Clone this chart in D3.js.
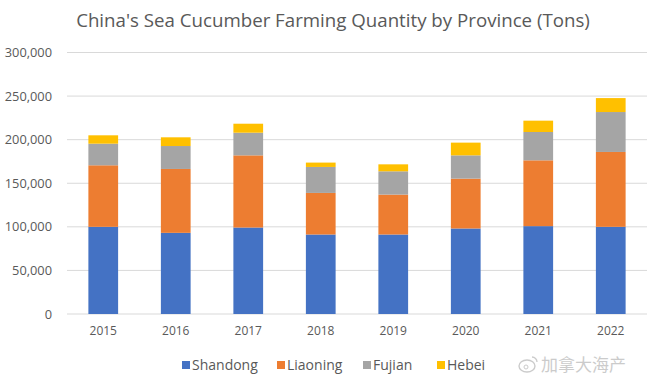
<!DOCTYPE html>
<html><head><meta charset="utf-8">
<script src="https://cdn.jsdelivr.net/npm/d3@7"></script>
<style>body{margin:0;background:#fff}svg{display:block}</style>
</head><body>
<svg id="c" width="660" height="385"></svg>
<script>
const years = ["2015","2016","2017","2018","2019","2020","2021","2022"];
const seriesNames = ["Shandong","Liaoning","Fujian","Hebei"];
const shandong = [100000, 93100, 99200, 91200, 91200, 98100, 100800, 100000];
const liaoning = [70600, 73300, 82800, 47700, 45800, 57200, 75500, 85900];
const fujian   = [24800, 26300, 26000, 29800, 26700, 26700, 32500, 45800];
const hebei    = [9600, 10000, 10300, 5000, 8000, 14600, 13000, 16000];
const colors = ["#4472C4","#ED7D31","#A5A5A5","#FFC000"];
const yTicks = [0,50000,100000,150000,200000,250000,300000];

const svg = d3.select("#c");
const font = "'Open Sans', sans-serif";
const m = {left:67, right:13, top:52, bottom:71};
const W = 660, H = 385;
const x = d3.scaleBand().domain(years).range([m.left, W-m.right]).paddingInner(0.59).paddingOuter(0.295);
const y = d3.scaleLinear().domain([0,300000]).range([314, 52.5]);

const rows = years.map((yr,i)=>({year:yr, Shandong:shandong[i], Liaoning:liaoning[i], Fujian:fujian[i], Hebei:hebei[i]}));
const stacked = d3.stack().keys(seriesNames)(rows);

// gridlines
svg.append("g").selectAll("line").data(yTicks).join("line")
  .attr("x1", m.left).attr("x2", W-m.right)
  .attr("y1", d=>y(d)).attr("y2", d=>y(d))
  .attr("stroke", "#d9d9d9").attr("stroke-width", 1);

// y axis labels
const yAxis = d3.axisLeft(y).tickValues(yTicks).tickSize(0).tickPadding(0).tickFormat(d3.format(","));
const ga = svg.append("g").attr("transform", `translate(52,0)`).call(yAxis);
ga.select(".domain").remove();
ga.selectAll("text").attr("fill","#595959").style("font-family",font).style("font-size","12.8px");

// bars
svg.append("g").selectAll("g").data(stacked).join("g")
  .attr("fill", (d,i)=>colors[i])
  .selectAll("rect").data(d=>d).join("rect")
  .attr("x", d=>x(d.data.year))
  .attr("width", x.bandwidth())
  .attr("y", d=>y(d[1]))
  .attr("height", d=>y(d[0])-y(d[1]));

// x axis labels
const xAxis = d3.axisBottom(x).tickSize(0).tickPadding(0);
const gx = svg.append("g").attr("transform", `translate(0,326)`).call(xAxis);
gx.select(".domain").remove();
gx.selectAll("text").attr("fill","#595959").style("font-family",font).style("font-size","12px");

// title
svg.append("text").attr("x", 333).attr("y", 27).attr("text-anchor","middle")
  .attr("fill","#595959").style("font-family",font).style("font-size","18.7px")
  .text("China's Sea Cucumber Farming Quantity by Province (Tons)");

// legend
const legX = [182, 277, 363, 437];
const lg = svg.append("g").selectAll("g").data(seriesNames).join("g")
  .attr("transform", (d,i)=>`translate(${legX[i]},365)`);
lg.append("rect").attr("x",0).attr("y",-4).attr("width",8).attr("height",8).attr("fill",(d,i)=>colors[i]);
lg.append("text").attr("x",10).attr("y",0).attr("dy","0.35em")
  .attr("fill","#595959").style("font-family",font).style("font-size","14px").text(d=>d);

// watermark
const wm = svg.append("g").attr("transform","translate(518,365)").attr("opacity",0.5);
wm.append("ellipse").attr("cx",9).attr("cy",1).attr("rx",8).attr("ry",6).attr("fill","none").attr("stroke","#999").attr("stroke-width",1.4);
wm.append("circle").attr("cx",8).attr("cy",2).attr("r",2).attr("fill","none").attr("stroke","#999");
wm.append("path").attr("d","M14,-8 a5,5 0 0 1 5,5").attr("fill","none").attr("stroke","#999").attr("stroke-width",1.3);
wm.append("text").attr("x",23).attr("y",0).attr("dy","0.35em").attr("fill","#999")
  .style("font-family","'Noto Sans CJK SC', sans-serif").style("font-size","17px").text("加拿大海产");
</script>
</body></html>
